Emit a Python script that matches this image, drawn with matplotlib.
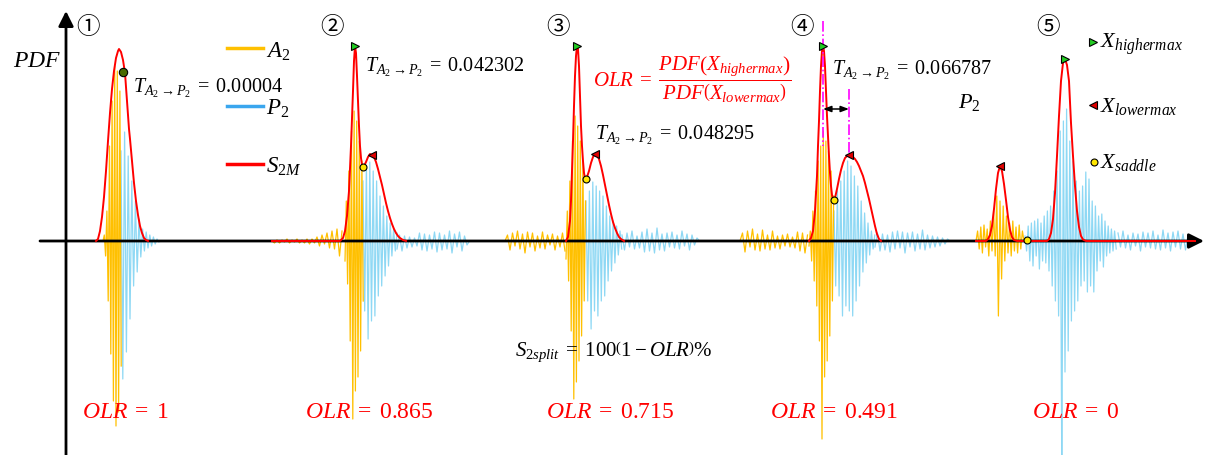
import numpy as np
import matplotlib.pyplot as plt

plt.rcParams['mathtext.fontset'] = 'custom'
plt.rcParams['mathtext.rm'] = 'Liberation Serif'
plt.rcParams['mathtext.it'] = 'Liberation Serif:italic'
plt.rcParams['mathtext.bf'] = 'Liberation Serif:bold'
plt.rcParams['font.family'] = ['Liberation Serif', 'DejaVu Sans']

# ---- signal traces: (start x, sample step, amplitudes) ----
A2_segments = [
    (103, 1.3, [0, 6, -15, 30, -60, 95, -113, 140, -160, 175, -185, 170, -171, 150, -125]),
    (272, 2.5, [0, -2, 1, -2, 1, -1, 2, -2, 1, -1, 2, -2, 1, -2, 2, -3, 2, -2, 4, -5, 6, -3,
                8, -7, 10, -8, 12, -15, 10]),
    (345, 1.3, [-20, 40, -43, 70, -100, 110, -178, 130, -150, 120, -136, 100, -110, 80, -60]),
    (505, 2.5, [0, 6, -9, 8, -5, 10, -8, 7, -12, 9, -6, 8, -10, 5, -7, 9, -8, 6, -4, 7, -9,
                5, -6, 8, -10]),
    (566, 1.3, [-18, 30, -40, 60, -90, 100, -158, 125, -141, 115, -120, 100, -95, 80, -60, 40]),
    (740, 2.5, [0, 8, -11, 10, -6, 12, -9, 7, -10, 11, -8, 6, -9, 10, -7, 5, -8, 6, -5, 7,
                -6, 4, -7, 9, -10, 8, -12, 6]),
    (809, 1.3, [-5, 10, -20, 30, -40, 50, -65, 80, -100, 95, -198, 110, -136, 100, -120, 90,
                -95, 70, -60, 45]),
    (976, 1.6, [0, 10, -8, 14, -12, 16, -6, 12, -15, 20, -10, 30, -15, 45, -75, 40, -38, 35,
                -20, 25, -12, 18, -15, 20, -10, 14, -12, 16, -8, 10, 0]),
]
P2_segments = [
    (121, 1.8, [90, -138, 109, -111, 85, -78, 60, -45, 40, -31, 22, -16, 12, -10, 9, -7, 6,
                -5, 4, -3, 2, -1, 0]),
    (363, 1.7, [60, -70, 75, -98, 79, -80, 70, -75, 60, -55, 45, -45, 35, -35, 25, -25, 18,
                -15, 12, -10, 8]),
    (397, 2.5, [-8, 6, -10, 5, -7, 4, -6, 3, -5, 8, -9, 7, -10, 6, -8, 9, -11, 8, -9, 6, -8,
                10, -12, 7, -6, 9, -10, 5, -4, 0]),
    (586, 1.7, [40, -60, 50, -88, 59, -70, 55, -75, 50, -60, 45, -55, 35, -40, 25, -30, 20,
                -22, 15, -14, 10, -8]),
    (622, 2.5, [6, -9, 8, -6, 10, -8, 5, -7, 9, -11, 12, -10, 8, -12, 13, -9, 7, -10, 8, -6,
                9, -7, 6, -8, 10, -5, 7, -9, 6, -4, 3, 0]),
    (834, 1.7, [30, -45, 50, -55, 60, -75, 70, -65, 80, -70, 75, -75, 65, -60, 55, -45, 40,
                -31, 28, -22, 18, -14, 10, -8, 6]),
    (875, 2.5, [-6, 8, -10, 7, -9, 6, -11, 9, -8, 10, -7, 9, -12, 8, -6, 9, -10, 7, -8, 11,
                -9, 6, -7, 5, -6, 4, -5, 3, -3, 2, 0]),
    (1025, 1.6, [5, -10, 15, -20, 18, -25, 20, -15, 22, -28, 18, -20, 25, -22, 30, -30, 35,
                 -45, 50, -60, 70, -75, 110, -230, 120, -131, 132, -110, 100, -80, 80, -70,
                 60, -60, 50, -45, 55, -40, 69, -51, 62, -45, 40, -51, 35, -30, 25, -20, 27,
                 -26, 20, -15, 15, -12, 12, -10, 10, -8]),
    (1118, 2.5, [8, -6, 10, -7, 6, -9, 8, -5, 7, -10, 9, -6, 8, -7, 10, -8, 6, -9, 11, -7, 8,
                 -10, 9, -6, 10, -8, 7, -9, 6, -4, 0]),
]

# ---- S2M pdf curves ----
s2m_x1 = [96, 98, 100, 102, 104, 106, 108, 110, 112, 114, 116, 118, 119, 121, 123, 125, 127,
          129, 130, 132, 134, 136, 138, 140, 142, 144, 146, 148]
s2m_h1 = [0, 2, 10, 24, 44, 70, 100, 128, 152, 170, 183, 190, 192, 189, 181, 168, 140, 112,
          102, 80, 58, 40, 26, 15, 8, 3, 1, 0]
s2m_x2 = [272, 340, 343, 345, 347, 349, 351, 353, 354, 355, 356, 357, 358, 359, 360, 361, 362,
          363, 364, 366, 368, 370, 372, 374, 376, 378, 380, 382, 384, 386, 388, 390, 392, 394,
          396, 398, 400, 403, 406]
s2m_h2 = [0, 0, 3, 10, 25, 50, 95, 150, 180, 195, 188, 165, 140, 115, 95, 83, 76, 74, 75, 79,
          84, 87, 86, 84, 79, 72, 64, 56, 47, 38, 30, 23, 17, 12, 8, 5, 3, 1, 0]
s2m_x3 = [566, 568, 570, 571, 572, 573, 574, 575, 576, 577, 578, 579, 580, 581, 582, 583, 584,
          585, 586, 587, 589, 591, 593, 595, 597, 599, 601, 603, 605, 607, 609, 611, 613, 615,
          617, 619, 621, 624]
s2m_h3 = [0, 4, 20, 40, 70, 100, 135, 165, 185, 195, 192, 175, 145, 115, 95, 80, 68, 63, 62,
          64, 70, 78, 84, 87, 86, 82, 75, 66, 56, 46, 36, 27, 19, 13, 8, 4, 2, 0]
s2m_x4 = [809, 811, 813, 815, 817, 818, 819, 820, 821, 822, 823, 824, 825, 826, 827, 828, 829,
          830, 831, 832, 833, 834, 835, 837, 839, 841, 843, 845, 847, 849, 851, 853, 855, 857,
          859, 861, 863, 865, 867, 869, 871, 873, 875, 877, 879, 881]
s2m_h4 = [0, 3, 10, 30, 65, 95, 120, 150, 175, 190, 195, 190, 175, 150, 125, 105, 85, 68, 55,
          46, 42, 41, 43, 52, 62, 71, 78, 83, 85, 86, 85, 84, 82, 79, 75, 70, 65, 58, 50, 42,
          33, 24, 15, 7, 2, 0]
s2m_x5 = [976, 986, 988, 990, 992, 994, 996, 998, 1000, 1002, 1004, 1006, 1008, 1010, 1012,
          1014, 1017, 1047, 1049, 1051, 1053, 1055, 1057, 1059, 1061, 1063, 1065, 1067, 1069,
          1071, 1073, 1075, 1077, 1079, 1081, 1083, 1086, 1195]
s2m_h5 = [0, 0, 2, 6, 15, 32, 52, 68, 75, 70, 57, 41, 24, 11, 4, 1, 0, 0, 2, 8, 22, 48, 85,
          125, 160, 178, 182, 176, 160, 118, 85, 55, 30, 14, 5, 1.5, 0, 0]
s2m_curves = [(s2m_x1, s2m_h1), (s2m_x2, s2m_h2), (s2m_x3, s2m_h3), (s2m_x4, s2m_h4),
              (s2m_x5, s2m_h5)]

# feature points
higher_max = [(355, 195), (577, 195), (823, 195), (1065, 182)]
lower_max = [(372, 86), (595, 87), (849, 86), (1000, 75)]
saddle = [(363, 74), (586, 62), (834, 41), (1027, 1)]
transition_pt = (123, 169)

olr_values = ['1', '0.865', '0.715', '0.491', '0']
olr_x = [125, 369, 610, 834, 1076]
t_values = ['0.00004', '0.042302', '0.048295', '0.066787']
t_pos = [(133, 149), (365, 170), (595, 102), (832, 167)]
panel_marks = ['①', '②', '③', '④', '⑤']
panel_x = [88, 332, 558, 802, 1048]

YEL = '#FFC000'
BLU = '#8ED8F4'
RED = '#FF0000'

fig = plt.figure(figsize=(12.05, 4.56), dpi=100)
ax = fig.add_axes([0, 0, 1, 1])
ax.set_xlim(0, 1205)
ax.set_ylim(-214, 242)
ax.axis('off')

for x0, dx, vals in P2_segments:
    ax.plot(x0 + dx * np.arange(len(vals)), vals, color=BLU, lw=0.9, zorder=1)
for x0, dx, vals in A2_segments:
    ax.plot(x0 + dx * np.arange(len(vals)), vals, color=YEL, lw=0.9, zorder=1.5)

# axes arrows
ax.annotate('', xy=(1204, 0), xytext=(40, 0),
            arrowprops=dict(arrowstyle='-|>,head_length=0.5,head_width=0.25', color='k',
                            lw=2, mutation_scale=18, shrinkA=0, shrinkB=0), zorder=2)
ax.annotate('', xy=(66, 230), xytext=(66, -214),
            arrowprops=dict(arrowstyle='-|>,head_length=0.5,head_width=0.25', color='k',
                            lw=2, mutation_scale=18, shrinkA=0, shrinkB=0), zorder=2)

for xs, hs in s2m_curves:
    ax.plot(xs, hs, color=RED, lw=1.4, zorder=3)

# dash-dot guides and double arrow in panel 4
ax.plot([823, 823], [220, 95], color='#FF00FF', lw=1.2, ls='-.', zorder=4)
ax.plot([849, 849], [152, 86], color='#FF00FF', lw=1.2, ls='-.', zorder=4)
ax.annotate('', xy=(849, 132), xytext=(823, 132),
            arrowprops=dict(arrowstyle='<|-|>,head_length=0.4,head_width=0.15', color='k',
                            lw=1.1, mutation_scale=12, shrinkA=0, shrinkB=0), zorder=4)

mk = dict(markeredgecolor='k', markeredgewidth=0.8, ls='none', zorder=5)
ax.plot(*zip(*higher_max), marker='>', markersize=6, markerfacecolor='#22CC22', **mk)
ax.plot(*zip(*lower_max), marker='<', markersize=6, markerfacecolor='#E00000', **mk)
ax.plot(*zip(*saddle), marker='o', markersize=5, markerfacecolor='#FFE600', **mk)
ax.plot(*transition_pt, marker='o', markersize=6, markerfacecolor='#4A6A00', **mk)

# marker key
ax.plot(1093, 199, marker='>', markersize=6, markerfacecolor='#22CC22', **mk)
ax.plot(1093, 136, marker='<', markersize=6, markerfacecolor='#E00000', **mk)
ax.plot(1094, 79, marker='o', markersize=5, markerfacecolor='#FFE600', **mk)
ax.text(1100, 194, r'$X_{highermax}$', fontsize=16, va='baseline')
ax.text(1100, 130, r'$X_{lowermax}$', fontsize=16, va='baseline')
ax.text(1100, 74, r'$X_{saddle}$', fontsize=16, va='baseline')

# line key
ax.plot([227, 263], [193, 193], color=YEL, lw=2.5)
ax.plot([227, 263], [135, 135], color='#3AA6EE', lw=2.5)
ax.plot([227, 263], [77, 77], color=RED, lw=2.5)
ax.text(266, 184, r'$A_2$', fontsize=16.5, va='baseline')
ax.text(266, 127, r'$P_2$', fontsize=16.5, va='baseline')
ax.text(266, 69, r'$S_{2M}$', fontsize=16.5, va='baseline')

ax.text(13, 181, r'$PDF$', fontsize=17, va='center')
ax.text(958, 134, r'$P_2$', fontsize=16, va='baseline')

for mark, x in zip(panel_marks, panel_x):
    ax.text(x, 215, mark, fontsize=17, ha='center', va='center',
            family=['Noto Sans CJK SC', 'DejaVu Sans'])

for val, (x, h) in zip(t_values, t_pos):
    ax.text(x, h, r'$T_{A_2\rightarrow P_2}\;=\;%s$' % val, fontsize=14.5, va='baseline')

for val, x in zip(olr_values, olr_x):
    ax.text(x, -176, r'$OLR\;=\;%s$' % val, fontsize=17, color=RED, ha='center', va='baseline')

ax.text(593, 162,
        r'$OLR\;=\;\dfrac{PDF\left(X_{highermax}\right)}{PDF\left(X_{lowermax}\right)}$',
        fontsize=15, color=RED, va='center')
ax.text(515, -114, r'$S_{2split}\;=\;100\left(1-OLR\right)\%$', fontsize=15, va='baseline')

fig.savefig('out.png', dpi=100)
